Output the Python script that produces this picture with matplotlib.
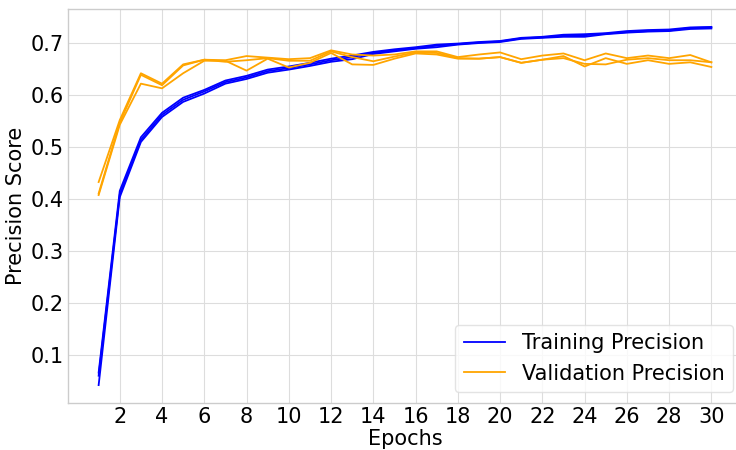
import matplotlib
matplotlib.use("Agg")
import matplotlib.pyplot as plt
import numpy as np

epochs = list(range(1, 31))

train_1 = [0.042, 0.403, 0.509, 0.557, 0.586, 0.602, 0.621, 0.630, 0.642, 0.648,
           0.655, 0.663, 0.668, 0.678, 0.683, 0.688, 0.691, 0.696, 0.699, 0.701,
           0.707, 0.709, 0.711, 0.711, 0.716, 0.719, 0.721, 0.722, 0.726, 0.727]
train_2 = [0.060, 0.408, 0.513, 0.561, 0.590, 0.606, 0.624, 0.633, 0.645, 0.651,
           0.658, 0.666, 0.672, 0.680, 0.685, 0.689, 0.694, 0.697, 0.700, 0.702,
           0.708, 0.710, 0.713, 0.714, 0.717, 0.720, 0.722, 0.723, 0.728, 0.729]
train_3 = [0.066, 0.415, 0.518, 0.565, 0.594, 0.609, 0.627, 0.636, 0.648, 0.654,
           0.661, 0.669, 0.675, 0.682, 0.687, 0.691, 0.696, 0.698, 0.701, 0.703,
           0.709, 0.711, 0.715, 0.716, 0.718, 0.722, 0.724, 0.725, 0.729, 0.730]

val_1 = [0.432, 0.551, 0.641, 0.621, 0.658, 0.667, 0.666, 0.674, 0.671, 0.668,
         0.670, 0.685, 0.677, 0.675, 0.677, 0.683, 0.683, 0.672, 0.677, 0.681,
         0.668, 0.675, 0.679, 0.666, 0.679, 0.670, 0.675, 0.670, 0.676, 0.662]
val_2 = [0.410, 0.546, 0.638, 0.618, 0.656, 0.667, 0.663, 0.666, 0.670, 0.665,
         0.665, 0.683, 0.672, 0.664, 0.673, 0.681, 0.680, 0.670, 0.669, 0.672,
         0.661, 0.667, 0.670, 0.659, 0.658, 0.667, 0.670, 0.666, 0.666, 0.662]
val_3 = [0.407, 0.542, 0.621, 0.612, 0.641, 0.665, 0.665, 0.646, 0.669, 0.652,
         0.661, 0.680, 0.658, 0.657, 0.669, 0.679, 0.677, 0.669, 0.669, 0.672,
         0.661, 0.667, 0.674, 0.654, 0.670, 0.659, 0.666, 0.659, 0.662, 0.653]

train_runs = [train_1, train_2, train_3]
val_runs = [val_1, val_2, val_3]
xticks = list(range(2, 31, 2))
yticks = [0.1, 0.2, 0.3, 0.4, 0.5, 0.6, 0.7]

fig = plt.figure(figsize=(7.36, 4.5), dpi=100)
ax = fig.add_axes([68/736, 47/450, 674/736, 394/450])

for i, run in enumerate(train_runs):
    ax.plot(epochs, run, color="blue", lw=1.3,
            label="Training Precision" if i == 0 else None)
for i, run in enumerate(val_runs):
    ax.plot(epochs, run, color="orange", lw=1.3,
            label="Validation Precision" if i == 0 else None)

ax.set_xticks(xticks)
ax.set_yticks(yticks)
ax.set_yticklabels([f"{v:.1f}" for v in yticks])
ax.tick_params(labelsize=15, length=0, pad=3)
ax.grid(True, color="#dddddd", lw=0.8)
ax.set_axisbelow(True)
for s in ax.spines.values():
    s.set_color("#cccccc")
    s.set_linewidth(1.0)
ax.set_xlabel("Epochs", fontsize=15, labelpad=1)
ax.set_ylabel("Precision Score", fontsize=15, labelpad=3)
ax.legend(loc="lower right", bbox_to_anchor=(733/736, 58/450),
          bbox_transform=fig.transFigure, fontsize=15, framealpha=0.8,
          edgecolor="#dddddd", fancybox=True, borderaxespad=0)

fig.savefig("out.png", dpi=100)
